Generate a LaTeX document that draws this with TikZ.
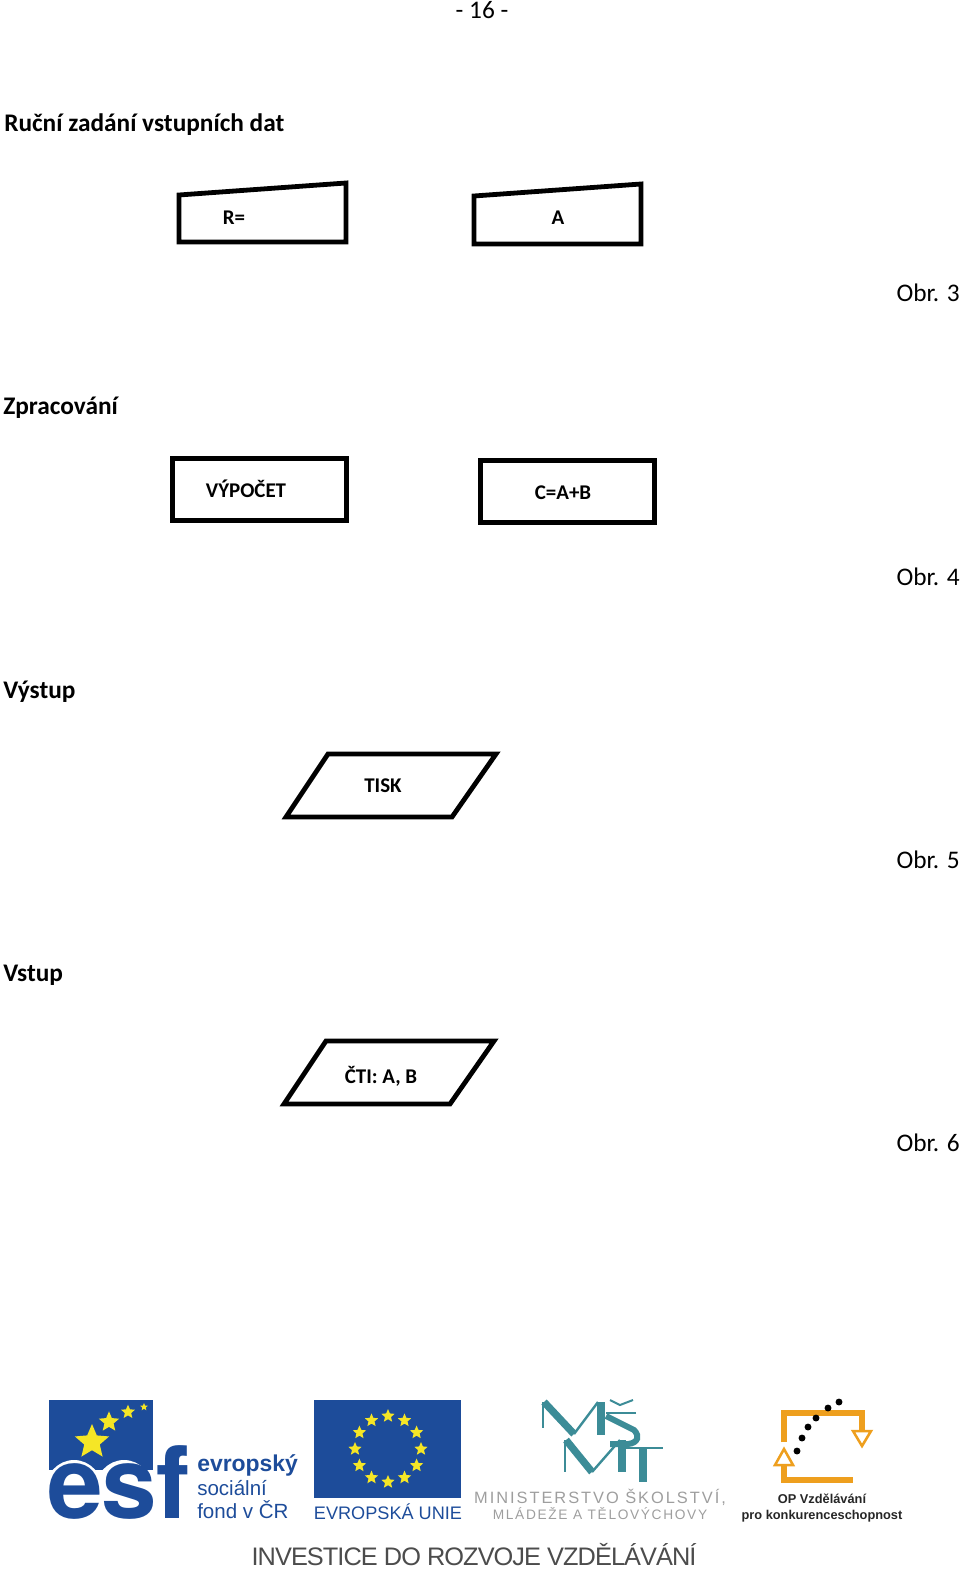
\documentclass[tikz,border=0pt]{standalone}
\usepackage{fontspec}
\setmainfont{Carlito}
\newfontfamily\logofont{Liberation Sans}
\newfontfamily\widefont[LetterSpace=12]{Liberation Sans}
\newfontfamily\tightfont[LetterSpace=-3.7]{Liberation Sans}
\newfontfamily\esffont{TeX Gyre Heros}
\usetikzlibrary{shapes.geometric}
\definecolor{esfblue}{HTML}{1D4C9A}
\definecolor{flagyellow}{HTML}{F5E626}
\definecolor{msmtteal}{HTML}{3C8C97}
\definecolor{opbrown}{HTML}{EE9F1E}
\newcommand{\sizept}[1]{\fontsize{#1}{#1}\selectfont}
\begin{document}
\begin{tikzpicture}[x=0.75pt, y=-0.75pt,
   heading/.style={anchor=base west, inner sep=0pt, font=\sizept{19}\bfseries},
   caption/.style={anchor=base east, inner sep=0pt, font=\sizept{19}},
   boxtext/.style={inner sep=0pt, font=\sizept{15.7}\bfseries},
   outline/.style={draw=black, line width=3.6pt, miter limit=10},
   box/.style={outline, minimum width=130.5pt, minimum height=46pt, inner sep=0pt},
   euro/.style={star, star points=5, star point ratio=2.2, fill=flagyellow, inner sep=0pt},
   tealline/.style={draw=msmtteal, line cap=butt},
   orangeline/.style={draw=opbrown, line width=5pt},
   hollowhead/.style={draw=opbrown, fill=white, line width=1.9pt, miter limit=10},
   dot/.style={circle, fill=black, inner sep=0pt, minimum size=5.2pt}]
  \useasboundingbox (0,0) rectangle (960,1576);
  \node[font=\sizept{19}] (page) at (482,10) {- 16 -};

  \node[heading] (manual) at (4,132)  {Ruční zadání vstupních dat};
  \node[heading] (proc)   at (3,414)  {Zpracování};
  \node[heading] (output) at (3,698)  {Výstup};
  \node[heading] (input)  at (3,981)  {Vstup};
  \node[caption] (obr3) at (960,302)  {Obr. 3};
  \node[caption] (obr4) at (960,585)  {Obr. 4};
  \node[caption] (obr5) at (960,868)  {Obr. 5};
  \node[caption] (obr6) at (960,1151) {Obr. 6};

  \draw[outline] (179,195) -- (346,183) -- (346,242) -- (179,242) -- cycle;
  \node[boxtext] (radius) at (234,218) {R=};
  \draw[outline] (474,196) -- (641,184) -- (641,244) -- (474,244) -- cycle;
  \node[boxtext] (value) at (558,218) {A};

  \node[box] (calc) at (259.5,489.5) {};
  \node[boxtext] (calctext) at (246,489) {VÝPOČET};
  \node[box] (sum) at (567.5,491.5) {};
  \node[boxtext] (sumtext) at (563,493) {C=A+B};

  \draw[outline] (286,817) -- (328,754) -- (496,754) -- (452,817) -- cycle;
  \node[boxtext] (print) at (383,786) {TISK};
  \draw[outline] (284,1104) -- (326,1041) -- (494,1041) -- (450,1104) -- cycle;
  \node[boxtext] (read) at (381,1076) {ČTI: A, B};

  \fill[esfblue] (49,1400) rectangle (153,1470);
  \fill[white] (74,1491) ellipse (29 and 31);
  \fill[white] (124,1491) ellipse (29 and 31);
  \node[euro, minimum size=27pt] (esf1) at (92,1442) {};
  \node[euro, minimum size=16pt] (esf2) at (109,1422) {};
  \node[euro, minimum size=11pt] (esf3) at (128,1412) {};
  \node[euro, minimum size=6pt]  (esf4) at (144,1407) {};
  \node[anchor=base west, inner sep=0pt, text=esfblue, font=\esffont\sizept{75}\bfseries] (esf) at (47,1518) {e\kern-1pt s\kern-0.5pt f};
  \node[anchor=base west, inner sep=0pt, text=esfblue, font=\logofont\sizept{17.2}\bfseries] (esf5) at (197,1471) {evropský};
  \node[anchor=base west, inner sep=0pt, text=esfblue, font=\logofont\sizept{15.4}] (esf6) at (197,1495) {sociální};
  \node[anchor=base west, inner sep=0pt, text=esfblue, font=\logofont\sizept{15.4}] (esf7) at (197,1518) {fond v ČR};

  \fill[esfblue] (314,1400) rectangle (461,1498);
  \foreach \i in {1,...,12}
    \node[euro, minimum size=10.5pt] (eu\i) at ({388+33*cos(30*\i)},{1449+33*sin(30*\i)}) {};
  \node[anchor=base, inner sep=0pt, text=esfblue, font=\logofont\sizept{13.6}] (eu) at (388,1519) {EVROPSKÁ UNIE};

  \draw[tealline, line width=2pt] (543,1402) -- (543,1428);
  \draw[tealline, line width=5.5pt] (544,1402) -- (574,1434);
  \draw[tealline, line width=1.8pt] (574,1434) -- (598,1402);
  \draw[tealline, line width=5.5pt] (601,1402) -- (601,1435);
  \draw[tealline, line width=1.5pt] (610,1400) -- (620,1405) -- (633,1400);
  \draw[tealline, line width=1.5pt] (636,1413) -- (606,1413);
  \draw[tealline, line width=4.5pt] (606,1416) -- (634,1430) .. controls (640,1436) and (638,1443) .. (628,1444) -- (610,1444);
  \draw[tealline, line width=2pt] (565,1440) -- (565,1472);
  \draw[tealline, line width=5.5pt] (566,1440) -- (592,1472);
  \draw[tealline, line width=1.8pt] (592,1472) -- (620,1440);
  \draw[tealline, line width=5.5pt] (622,1440) -- (622,1472);
  \draw[tealline, line width=1.5pt] (620,1448) -- (663,1448);
  \draw[tealline, line width=5.5pt] (643,1448) -- (643,1482);
  \node[anchor=base, inner sep=0pt, text=black!38, font=\widefont\sizept{12.3}] (msmt1) at (600,1503) {MINISTERSTVO ŠKOLSTVÍ,};
  \node[anchor=base, inner sep=0pt, text=black!38, font=\widefont\sizept{10.3}] (msmt2) at (600,1519) {MLÁDEŽE A TĚLOVÝCHOVY};

  \draw[orangeline] (784,1442) -- (784,1413) -- (862,1413) -- (862,1432);
  \draw[orangeline] (784,1466) -- (784,1480) -- (853,1480);
  \draw[hollowhead] (853,1431) -- (871,1431) -- (862,1446) -- cycle;
  \draw[hollowhead] (775,1465) -- (793,1465) -- (784,1449) -- cycle;
  \foreach \i/\px/\py in {1/797/1451,2/802/1438,3/808/1427,4/816/1418,5/828/1408,6/839/1402}
    \node[dot] (op\i) at (\px,\py) {};
  \node[anchor=base, inner sep=0pt, text=black!85, font=\logofont\sizept{9.6}\bfseries] (op) at (822,1503) {OP Vzdělávání};
  \node[anchor=base, inner sep=0pt, text=black!85, font=\logofont\sizept{9.6}\bfseries] (opname) at (822,1519) {pro konkurenceschopnost};

  \node[anchor=base, inner sep=0pt, text=black!70, font=\tightfont\sizept{19}] (invest) at (474,1565) {INVESTICE DO ROZVOJE VZDĚLÁVÁNÍ};
\end{tikzpicture}
\end{document}
